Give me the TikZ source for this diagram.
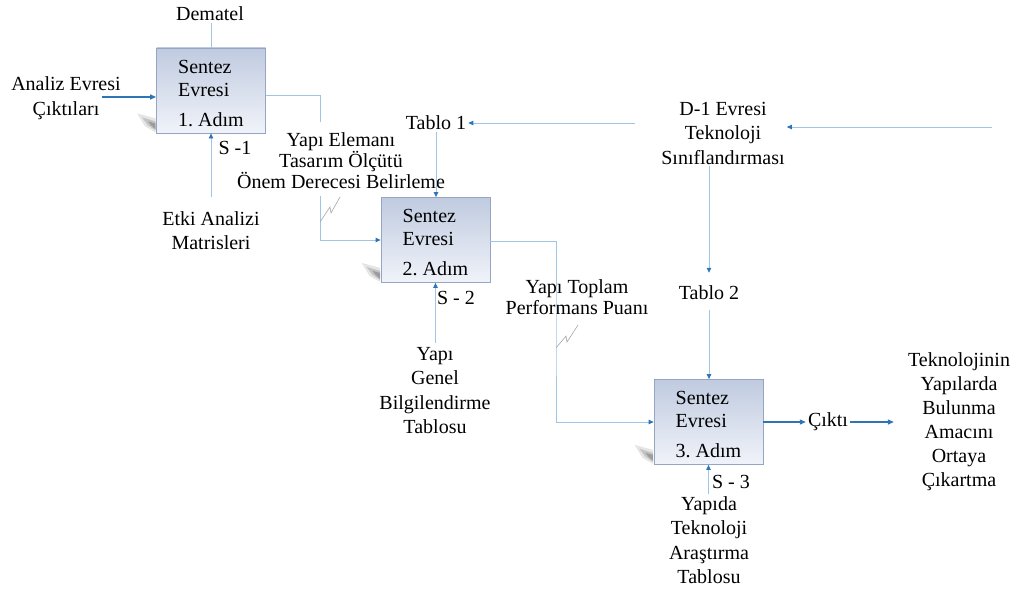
\documentclass[tikz,border=0pt]{standalone}
\usepackage{fontspec}
\setmainfont{Liberation Serif}
\usetikzlibrary{arrows.meta,calc}
\definecolor{lineblue}{RGB}{160,196,228}
\definecolor{tipblue}{RGB}{46,117,182}
\definecolor{boxtop}{RGB}{192,203,224}
\definecolor{boxbot}{RGB}{240,243,249}
\definecolor{boxline}{RGB}{150,165,195}
\begin{document}
\frenchspacing
\begin{tikzpicture}[x=1pt,y=-1pt,
  every node/.style={font=\fontsize{20}{24.5}\selectfont, inner sep=2pt},
  lbl/.style={align=center},
  tight/.style={font=\fontsize{20}{21}\selectfont},
  stepbox/.style={draw=boxline, line width=0.8pt, top color=boxtop, bottom color=boxbot,
    minimum width=109pt, minimum height=85pt, inner sep=0pt, align=left,
    font=\fontsize{20}{23}\selectfont},
  conn/.style={draw=lineblue, line width=0.8pt},
  arr/.style={conn, -{Triangle[length=5pt,width=4.5pt,color=tipblue]}},
  darr/.style={draw=tipblue, line width=1.2pt, -{Triangle[length=6pt,width=5pt]}},
  squig/.style={draw=gray!70, line width=0.6pt}
]
\useasboundingbox (0,0) rectangle (1017,594);

% boxes
\node[stepbox] (b1) at (211,90.5) {\rule{0pt}{19pt}Sentez\\Evresi\\[7pt]1.\ Adım};
\node[stepbox] (b2) at (435.5,240) {\rule{0pt}{19pt}Sentez\\Evresi\\[7pt]2.\ Adım};
\node[stepbox] (b3) at (708.5,422) {\rule{0pt}{19pt}Sentez\\Evresi\\[7pt]3.\ Adım};

% soft shadow smudges at the lower left of each box
\foreach \b in {b1,b2,b3}{
  \fill[black,opacity=0.10] ($(\b.south west)+(-19,-20)$) -- ($(\b.south west)+(-0.5,-15)$)
     -- ($(\b.south west)+(-0.5,-1)$) -- ($(\b.south west)+(-11,-7)$) -- cycle;
  \fill[black,opacity=0.15] ($(\b.south west)+(-14,-16)$) -- ($(\b.south west)+(-0.5,-12)$)
     -- ($(\b.south west)+(-0.5,-3)$) -- ($(\b.south west)+(-8,-8)$) -- cycle;
  \fill[black,opacity=0.20] ($(\b.south west)+(-8,-12)$) -- ($(\b.south west)+(-0.5,-10)$)
     -- ($(\b.south west)+(-0.5,-4)$) -- ($(\b.south west)+(-5,-8)$) -- cycle;
}

% labels
\node[lbl] (dem) at (210,14) {Dematel};
\node[lbl] (ana) at (66,98) {Analiz Evresi\\Çıktıları};
\node[lbl] (etki) at (211,230.5) {Etki Analizi\\Matrisleri};
\node (s1) at (235,148) {S -1};
\node[lbl,tight] (yel) at (341,161) {Yapı Elemanı\\Tasarım Ölçütü\\Önem Derecesi Belirleme};
\node (t1) at (436,123) {Tablo 1};
\node[lbl] (d1) at (723,133) {D-1 Evresi\\Teknoloji\\Sınıflandırması};
\node (t2) at (709,293) {Tablo 2};
\node[lbl,tight] (ytp) at (577,297.5) {Yapı Toplam\\Performans Puanı};
\node (s2) at (456,298) {S - 2};
\node[lbl] (ygb) at (435,390.5) {Yapı\\Genel\\Bilgilendirme\\Tablosu};
\node (cikti) at (828,422) {Çıktı};
\node[lbl,font=\fontsize{20}{24}\selectfont] (tek) at (959,422) {Teknolojinin\\Yapılarda\\Bulunma\\Amacını\\Ortaya\\Çıkartma};
\node (s3) at (731,482) {S - 3};
\node[lbl] (ytar) at (709,540) {Yapıda\\Teknoloji\\Araştırma\\Tablosu};

% coordinates for free ends and bends
\coordinate (anaout) at (102,97);
\coordinate (rin) at (992,127);
\coordinate (c1) at (320,122);
\coordinate (c2) at (320,196);
\coordinate (c3) at (556,330);

% connectors
\draw[darr] (anaout) -- (b1.west |- anaout);
\draw[conn] (dem.south -| b1.north) -- (b1.north);
\draw[arr, shorten <=12pt] (etki.north -| b1.south) -- (b1.south);
\draw[conn] ([yshift=-4.5pt]b1.east) -| (c1);
\draw[arr] (c2) |- (b2.west);
\draw[squig] (320,222) -- ++(10,-15) -- ++(1,6) -- ++(9,-16);

\draw[arr, shorten <=24pt] (d1.west |- t1.east) -- (t1.east);
\draw[arr] (rin) -- (d1.east |- rin);
\draw[arr] (t1.south) -- (t1.south |- b2.north);
\draw[arr, shorten >=11pt] (t2.north |- d1.south) -- (t2.north);
\draw[arr, shorten <=8pt] (t2.south) -- (t2.south |- b3.north);

\draw[arr, shorten <=2pt] (ygb.north -| b2.south) -- (b2.south);
\draw[arr] ([yshift=-1pt]b2.east) -| (c3) |- (b3.west);
\draw[squig] (556,348) -- ++(10,-12) -- ++(1,6) -- ++(11,-17);

\draw[darr] (b3.east) -- (cikti.west);
\draw[darr, shorten >=12pt] (cikti.east) -- (tek.west |- cikti.east);
\draw[arr] (ytar.north -| b3.south) -- (b3.south);
\end{tikzpicture}
\end{document}
